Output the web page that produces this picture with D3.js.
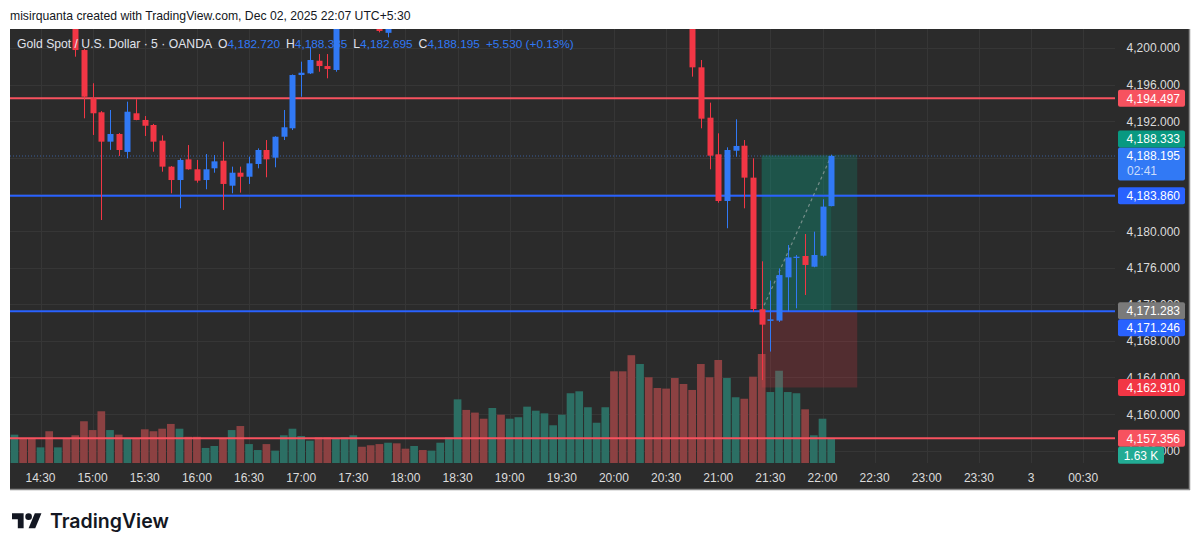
<!DOCTYPE html>
<html>
<head>
<meta charset="utf-8">
<script src="https://cdn.jsdelivr.net/npm/d3@7"></script>
<style>
body { margin: 0; background: #ffffff; }
svg { display: block; font-family: "Liberation Sans", Arial, sans-serif; }
</style>
</head>
<body>
<div id="chart"></div>
<script>
// 5 min bars, Dec 02 2025
var times = ["14:15","14:20","14:25","14:30","14:35","14:40","14:45","14:50","14:55",
  "15:00","15:05","15:10","15:15","15:20","15:25","15:30","15:35","15:40","15:45","15:50","15:55",
  "16:00","16:05","16:10","16:15","16:20","16:25","16:30","16:35","16:40","16:45","16:50","16:55",
  "17:00","17:05","17:10","17:15","17:20","17:25","17:30","17:35","17:40","17:45","17:50","17:55",
  "18:00","18:05","18:10","18:15","18:20","18:25","18:30","18:35","18:40","18:45","18:50","18:55",
  "19:00","19:05","19:10","19:15","19:20","19:25","19:30","19:35","19:40","19:45","19:50","19:55",
  "20:00","20:05","20:10","20:15","20:20","20:25","20:30","20:35","20:40","20:45","20:50","20:55",
  "21:00","21:05","21:10","21:15","21:20","21:25","21:30","21:35","21:40","21:45","21:50","21:55",
  "22:00","22:05"];

var opens = [4205.2,4205.6,4205.0,4204.5,4205.1,4204.2,4204.6,4203.6,4199.77,4194.50,
  4192.97,4189.76,4190.60,4188.64,4192.86,4192.13,4191.58,4189.87,4187.03,4185.57,
  4187.83,4186.74,4185.57,4186.85,4187.68,4184.95,4186.37,4185.93,4187.32,4188.85,
  4188.01,4190.30,4191.22,4197.04,4197.22,4198.60,4198.02,4197.59,4202.6,4203.6,
  4204.3,4203.2,4202.5,4201.65,4202.9,4202.9,4202.6,4203.5,4203.0,4203.6,
  4204.2,4204.7,4206.4,4205.3,4204.6,4204.1,4205.3,4204.7,4205.2,4205.8,
  4206.7,4207.2,4207.7,4208.0,4208.6,4209.8,4210.9,4211.4,4211.7,4212.4,
  4210.3,4208.6,4206.4,4207.9,4206.7,4205.8,4205.0,4204.0,4203.1,4197.88,
  4192.38,4188.38,4183.28,4188.77,4189.32,4185.83,4171.45,4170.18,4170.21,4174.94,
  4177.05,4177.27,4176.10,4177.30,4182.720];
var highs = [4206.0,4205.9,4205.4,4205.3,4205.5,4204.9,4204.8,4203.9,4199.9,4196.14,
  4193.1,4193.22,4190.7,4194.13,4194.39,4192.56,4191.7,4190.45,4187.1,4187.94,
  4189.39,4187.76,4188.41,4188.30,4189.76,4187.03,4187.03,4188.12,4189.03,4189.94,
  4190.35,4193.22,4197.1,4198.5,4200.13,4199.33,4199.33,4203.0,4204.0,4204.8,
  4204.6,4203.5,4202.8,4203.2,4203.4,4203.1,4203.8,4203.7,4203.9,4204.5,
  4205.0,4206.9,4206.8,4205.7,4205.0,4205.6,4205.5,4205.6,4206.1,4207.0,
  4207.5,4208.0,4208.3,4208.9,4210.2,4211.3,4211.8,4212.0,4212.8,4212.6,
  4210.6,4208.9,4208.4,4208.2,4207.0,4206.2,4205.4,4204.4,4203.4,4198.68,
  4194.02,4190.67,4189.14,4192.20,4189.94,4187.94,4176.69,4174.59,4175.92,4178.47,
  4177.38,4179.67,4179.93,4183.47,4188.335];
var lows = [4204.6,4204.8,4204.2,4204.3,4203.9,4203.8,4203.2,4199.04,4192.31,4190.49,
  4181.2,4188.86,4188.2,4187.94,4192.1,4190.38,4188.66,4186.48,4184.12,4182.48,
  4186.7,4185.28,4184.56,4186.37,4182.30,4184.12,4184.19,4185.14,4186.85,4185.87,
  4186.96,4189.94,4191.03,4194.67,4197.15,4197.4,4196.68,4197.4,4202.3,4203.2,
  4202.9,4202.2,4201.7,4201.16,4202.5,4202.4,4202.5,4202.8,4202.8,4203.4,
  4203.9,4204.5,4205.0,4204.3,4203.8,4203.9,4204.4,4204.5,4205.0,4205.6,
  4206.4,4207.0,4207.4,4207.8,4208.4,4209.5,4210.5,4211.0,4211.4,4209.9,
  4208.2,4205.9,4206.1,4206.3,4205.4,4204.7,4203.6,4202.6,4196.86,4191.22,
  4186.74,4183.09,4180.30,4188.12,4182.48,4171.19,4163.72,4166.83,4170.07,4171.19,
  4171.56,4173.01,4176.04,4177.19,4182.695];
var closes = [4205.6,4205.0,4204.5,4205.1,4204.2,4204.6,4203.6,4199.77,4194.67,4192.86,
  4189.76,4190.60,4188.85,4193.03,4192.13,4191.50,4189.76,4187.03,4185.57,4187.76,
  4186.74,4185.50,4186.74,4187.61,4185.14,4186.37,4185.93,4187.39,4188.85,4187.83,
  4190.30,4191.33,4197.04,4197.29,4198.68,4198.02,4197.70,4202.6,4203.6,4204.3,
  4203.2,4202.5,4201.85,4202.9,4202.6,4202.6,4203.5,4203.0,4203.6,4204.2,
  4204.7,4206.4,4205.3,4204.6,4204.1,4205.3,4204.7,4205.2,4205.8,4206.7,
  4207.2,4207.7,4208.0,4208.6,4209.8,4210.9,4211.4,4211.7,4212.4,4210.3,
  4208.6,4206.4,4207.9,4206.7,4205.8,4205.0,4204.0,4203.1,4197.88,4192.27,
  4188.23,4183.28,4188.85,4189.29,4185.83,4171.48,4169.77,4170.35,4175.19,4177.12,
  4177.19,4176.29,4177.38,4182.665,4188.195];
// volume in thousands
var volumes = [1.90,1.63,1.63,1.05,2.13,1.05,1.61,1.86,2.80,2.21,
  3.47,2.21,1.90,1.61,1.61,2.26,2.13,2.30,2.62,2.30,
  1.76,1.76,1.01,1.14,1.61,2.21,2.48,1.27,0.87,1.27,
  0.83,1.86,2.30,1.81,1.50,1.72,1.72,1.63,1.72,1.86,
  1.09,1.19,1.27,1.36,1.32,0.96,1.14,0.87,0.83,1.36,
  1.72,4.27,3.56,3.38,2.97,3.69,3.24,2.97,3.07,3.78,
  3.51,3.33,2.53,3.24,4.68,4.81,3.74,2.70,3.74,6.15,
  6.15,7.23,6.64,5.75,5.03,4.99,5.70,5.30,4.90,6.64,
  5.75,6.91,5.70,4.41,4.31,5.79,7.31,4.76,6.19,4.76,
  4.68,3.60,1.86,2.97,1.63];

var priceTicks = [4156,4160,4164,4168,4172,4176,4180,4184,4188,4192,4196,4200];
var timeTickLabels = ["14:30","15:00","15:30","16:00","16:30","17:00","17:30","18:00","18:30","19:00",
  "19:30","20:00","20:30","21:00","21:30","22:00","22:30","23:00","23:30","3","00:30"];

var redLevels = [4194.497, 4157.356];
var blueLevels = [4183.860, 4171.246];
var entryPrice = 4171.283, targetPrice = 4188.333, stopPrice = 4162.910;
var positionStart = "21:25", positionEnd = "22:20";
var countdown = "02:41";
var symbolName = "Gold Spot / U.S. Dollar \u00b7 5 \u00b7 OANDA";
var headerText = "misirquanta created with TradingView.com, Dec 02, 2025 22:07 UTC+5:30";

var upColor = "#3179f5", downColor = "#f23645";
var volUp = "#2c6f64", volDown = "#8c4142";

function toDate(s) {
  if (s.indexOf(":") < 0) return new Date(2025, 11, +s, 0, 0);
  var p = s.split(":");
  var h = +p[0];
  return new Date(2025, 11, h < 12 ? 3 : 2, h, +p[1]);
}

var bars = times.map(function(t, i) {
  return {t: toDate(t), o: opens[i], h: highs[i], l: lows[i], c: closes[i], v: volumes[i]};
});

var panelL = 10, panelT = 29, panelR = 1190, panelB = 490;
var plotR = 1115, volBase = 463;

var x = d3.scaleTime().domain([toDate("14:30"), toDate("22:00")]).range([40.5, 822.5]);
var step = x(toDate("14:35")) - x(toDate("14:30"));
var y = d3.scaleLinear().domain([4157.356, 4194.497]).range([438.3, 98.3]);
var yv = d3.scaleLinear().domain([0, 1.63]).range([volBase, 438.7]);

var svg = d3.select("#chart").append("svg").attr("width", 1200).attr("height", 551);

svg.append("text").attr("x", 10).attr("y", 20)
  .attr("font-size", 12.2).attr("fill", "#131722").text(headerText);

svg.append("rect").attr("x", panelL).attr("y", panelT)
  .attr("width", panelR - panelL).attr("height", panelB - panelT).attr("fill", "#2b2b2b");

svg.append("clipPath").attr("id", "plotclip").append("rect")
  .attr("x", panelL).attr("y", panelT).attr("width", plotR - panelL).attr("height", volBase - panelT);

var grid = svg.append("g").attr("clip-path", "url(#plotclip)");
var tickDates = timeTickLabels.map(toDate);
grid.selectAll(".vg").data(tickDates).enter().append("line")
  .attr("x1", function(d) { return Math.round(x(d)) + 0.5; })
  .attr("x2", function(d) { return Math.round(x(d)) + 0.5; })
  .attr("y1", panelT).attr("y2", volBase)
  .attr("stroke", "#363636");
grid.selectAll(".hg").data(priceTicks).enter().append("line")
  .attr("x1", panelL).attr("x2", plotR)
  .attr("y1", function(d) { return Math.round(y(d)) + 0.5; })
  .attr("y2", function(d) { return Math.round(y(d)) + 0.5; })
  .attr("stroke", "#363636");

var plot = svg.append("g").attr("clip-path", "url(#plotclip)");

// volume
plot.selectAll(".vol").data(bars).enter().append("rect")
  .attr("x", function(d) { return x(d.t) - step / 2 + 0.5; })
  .attr("width", step - 1)
  .attr("y", function(d) { return yv(d.v); })
  .attr("height", function(d) { return volBase - yv(d.v); })
  .attr("fill", function(d) { return d.c >= d.o ? volUp : volDown; });

// long position tool
var px0 = x(toDate(positionStart)), px1 = x(toDate(positionEnd));
var last = bars[bars.length - 1];
plot.append("rect").attr("x", px0).attr("width", px1 - px0)
  .attr("y", y(targetPrice)).attr("height", y(entryPrice) - y(targetPrice))
  .attr("fill", "rgba(8,153,129,0.22)");
plot.append("rect").attr("x", px0).attr("width", px1 - px0)
  .attr("y", y(entryPrice)).attr("height", y(stopPrice) - y(entryPrice))
  .attr("fill", "rgba(242,54,69,0.2)");
plot.append("rect").attr("x", px0).attr("width", x(last.t) - px0)
  .attr("y", y(last.c)).attr("height", y(entryPrice) - y(last.c))
  .attr("fill", "rgba(8,153,129,0.2)");

// level lines
plot.append("line").attr("x1", panelL).attr("x2", plotR)
  .attr("y1", y(last.c)).attr("y2", y(last.c))
  .attr("stroke", "#3b5f9a").attr("stroke-width", 1).attr("stroke-dasharray", "1,2");
plot.selectAll(".rl").data(redLevels).enter().append("line")
  .attr("x1", panelL).attr("x2", plotR + 3)
  .attr("y1", function(d) { return y(d); }).attr("y2", function(d) { return y(d); })
  .attr("stroke", "#f7525f").attr("stroke-width", 2);
plot.selectAll(".bl").data(blueLevels).enter().append("line")
  .attr("x1", panelL).attr("x2", plotR + 3)
  .attr("y1", function(d) { return y(d); }).attr("y2", function(d) { return y(d); })
  .attr("stroke", "#2962ff").attr("stroke-width", 2);

plot.append("line")
  .attr("x1", px0).attr("y1", y(entryPrice))
  .attr("x2", x(last.t)).attr("y2", y(last.c))
  .attr("stroke", "rgba(190,190,190,0.55)").attr("stroke-width", 1.2)
  .attr("stroke-dasharray", "3,3");

// candles
var candle = plot.selectAll(".candle").data(bars).enter().append("g");
candle.append("line")
  .attr("x1", function(d) { return Math.round(x(d.t)) + 0.5; })
  .attr("x2", function(d) { return Math.round(x(d.t)) + 0.5; })
  .attr("y1", function(d) { return y(d.h); })
  .attr("y2", function(d) { return y(d.l); })
  .attr("stroke", function(d) { return d.c >= d.o ? upColor : downColor; });
candle.append("rect")
  .attr("x", function(d) { return Math.round(x(d.t)) - 2.5; })
  .attr("width", 6)
  .attr("y", function(d) { return y(Math.max(d.o, d.c)); })
  .attr("height", function(d) { return Math.max(1, Math.abs(y(d.o) - y(d.c))); })
  .attr("fill", function(d) { return d.c >= d.o ? upColor : downColor; });

// legend
var prev = bars[bars.length - 2];
var chg = last.c - prev.c;
var f3 = d3.format(",.3f");
var legend = svg.append("text").attr("x", 17).attr("y", 47.5).attr("font-size", 12.2).attr("fill", "#e0e3eb");
legend.append("tspan").text(symbolName);
[["O", last.o], ["H", last.h], ["L", last.l], ["C", last.c]].forEach(function(p) {
  legend.append("tspan").attr("dx", 6).attr("fill", "#e0e3eb").text(p[0]);
  legend.append("tspan").attr("fill", upColor).attr("font-size", 11.8).text(f3(p[1]));
});
legend.append("tspan").attr("dx", 6).attr("fill", upColor).attr("font-size", 11.8)
  .text("+" + d3.format(".3f")(chg) + " (+" + d3.format(".2f")(chg / prev.c * 100) + "%)");

// price axis
svg.selectAll(".pt").data(priceTicks).enter().append("text")
  .attr("x", 1180).attr("y", function(d) { return y(d) + 4.5; })
  .attr("text-anchor", "end").attr("font-size", 12).attr("fill", "#dcdcdc")
  .text(function(d) { return f3(d); });

// time axis
svg.selectAll(".tt").data(timeTickLabels).enter().append("text")
  .attr("x", function(d) { return x(toDate(d)); }).attr("y", 481.5)
  .attr("text-anchor", "middle").attr("font-size", 12).attr("fill", "#dcdcdc")
  .text(function(d) { return d; });

// price labels, placed in order, later ones pushed off earlier ones
var labels = [
  {y: y(last.c), text: f3(last.c), sub: countdown, color: upColor},
  {y: y(redLevels[0]), text: f3(redLevels[0]), color: "#f7525f"},
  {y: y(blueLevels[0]), text: f3(blueLevels[0]), color: "#2962ff"},
  {y: y(entryPrice), text: f3(entryPrice), color: "#7a7a7a"},
  {y: y(stopPrice), text: f3(stopPrice), color: "#f23645"},
  {y: y(redLevels[1]), text: f3(redLevels[1]), color: "#f7525f"},
  {y: y(targetPrice), text: f3(targetPrice), color: "#089981"},
  {y: y(blueLevels[1]), text: f3(blueLevels[1]), color: "#2962ff"},
  {y: yv(last.v), text: d3.format(".2f")(last.v) + " K", color: "#22ab94", vol: true}
];
var placed = [];
labels.forEach(function(lb) {
  var h = lb.sub ? 33 : 17;
  lb.top = lb.y - 8.5;
  for (var k = 0; k < 10; k++) {
    var moved = false;
    placed.forEach(function(p) {
      if (lb.top < p.top + p.h && lb.top + h > p.top) {
        lb.top = lb.y < p.y ? p.top - h : p.top + p.h;
        moved = true;
      }
    });
    if (!moved) break;
  }
  lb.h = h;
  placed.push(lb);
});
var lg = svg.selectAll(".lbl").data(labels).enter().append("g");
lg.append("rect")
  .attr("x", 1118).attr("y", function(d) { return d.top; })
  .attr("width", function(d) { return d.vol ? 46 : 67; })
  .attr("height", function(d) { return d.h; })
  .attr("rx", 2).attr("fill", function(d) { return d.color; });
lg.append("text")
  .attr("x", function(d) { return d.vol ? 1141 : 1180; })
  .attr("y", function(d) { return d.top + 13; })
  .attr("text-anchor", function(d) { return d.vol ? "middle" : "end"; })
  .attr("font-size", 12).attr("fill", "#ffffff")
  .text(function(d) { return d.text; });
lg.filter(function(d) { return d.sub; }).append("text")
  .attr("x", 1127).attr("y", function(d) { return d.top + 28; })
  .attr("font-size", 12).attr("fill", "rgba(255,255,255,0.75)")
  .text(function(d) { return d.sub; });

// frame
svg.append("line").attr("x1", panelL).attr("x2", panelR).attr("y1", panelB - 0.5).attr("y2", panelB - 0.5)
  .attr("stroke", "#8a8a8a").attr("stroke-width", 1.5);
svg.append("line").attr("x1", panelR - 0.5).attr("x2", panelR - 0.5).attr("y1", panelT).attr("y2", panelB)
  .attr("stroke", "#8a8a8a").attr("stroke-width", 1.5);

// logo
var logo = svg.append("g").attr("transform", "translate(12,510) scale(0.83)").attr("fill", "#131722");
logo.append("path").attr("d", "M14 22H7V11H0V4h14v18z");
logo.append("path").attr("d", "M28 22h-8l7.5-18h8L28 22z");
logo.append("circle").attr("cx", 20).attr("cy", 8).attr("r", 4);
svg.append("text").attr("x", 50).attr("y", 528).attr("font-family", "Inter, sans-serif")
  .attr("font-size", 19.5).attr("font-weight", 600).attr("fill", "#131722").text("TradingView");
</script>
</body>
</html>
